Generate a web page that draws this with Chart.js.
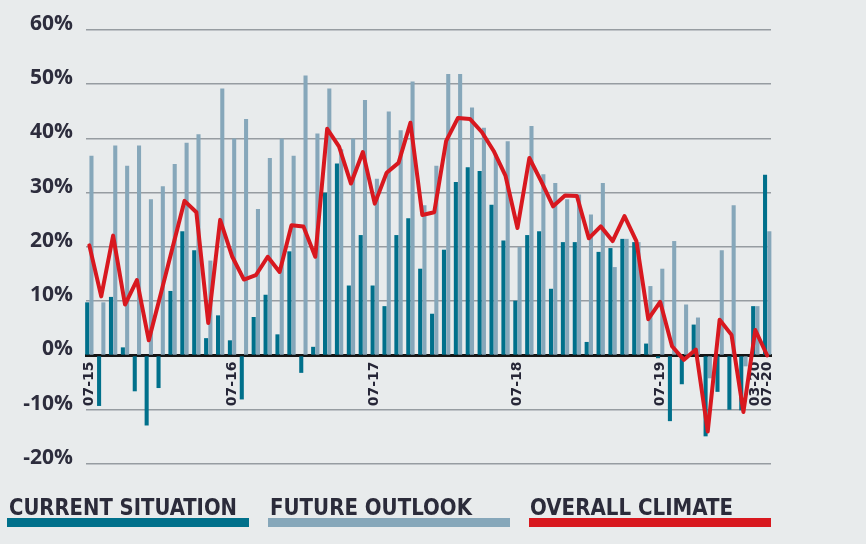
<!DOCTYPE html>
<html><head><meta charset="utf-8">
<script src="https://cdn.jsdelivr.net/npm/chart.js@4.4.1/dist/chart.umd.min.js"></script>
<style>
html,body{margin:0;padding:0;background:#e8ebec;}
#wrap{position:relative;width:866px;height:544px;overflow:hidden;background:#e8ebec;}
#c{position:absolute;left:0;top:0;}
.lg{position:absolute;top:0;left:0;}
.lg .t{position:absolute;white-space:nowrap;font-family:"DejaVu Sans Condensed","DejaVu Sans",sans-serif;font-weight:bold;font-size:23px;line-height:23px;color:#2b2b3a;transform-origin:0 0;}
.lg .b{position:absolute;height:9px;}
</style></head><body>
<div id="wrap"><canvas id="c" width="866" height="544"></canvas><div id="legend" class="lg"></div></div>
<script>
const categories = [
 '07-15','08-15','09-15','10-15','11-15','12-15','01-16','02-16','03-16','04-16','05-16','06-16',
 '07-16','08-16','09-16','10-16','11-16','12-16','01-17','02-17','03-17','04-17','05-17','06-17',
 '07-17','08-17','09-17','10-17','11-17','12-17','01-18','02-18','03-18','04-18','05-18','06-18',
 '07-18','08-18','09-18','10-18','11-18','12-18','01-19','02-19','03-19','04-19','05-19','06-19',
 '07-19','08-19','09-19','10-19','11-19','12-19','01-20','02-20','03-20','07-20'];
const currentSituation = [
 9.8,-9.3,10.8,1.5,-6.6,-12.9,-6.0,11.9,22.9,19.4,3.2,7.4,
 2.8,-8.1,7.1,11.2,3.9,19.2,-3.2,1.6,30.0,35.4,12.9,22.2,
 12.9,9.1,22.2,25.3,16.0,7.7,19.5,32.0,34.7,34.0,27.8,21.2,
 10.1,22.2,22.9,12.3,20.9,20.9,2.5,19.1,19.8,21.5,20.9,2.2,
 -0.5,-12.1,-5.3,5.7,-14.9,-6.7,-10.0,-10.1,9.1,33.3];
const futureOutlook = [
 36.8,9.8,38.7,35.0,38.7,28.8,31.2,35.3,39.2,40.8,17.5,49.2,
 40.0,43.6,27.0,36.4,40.0,36.8,51.6,40.9,49.2,38.0,40.0,47.1,
 32.6,45.0,41.5,50.5,27.7,35.0,51.9,51.9,45.7,42.0,37.0,39.5,
 20.0,42.3,33.4,31.8,28.8,29.7,26.0,31.8,16.3,21.5,20.9,12.8,
 16.0,21.1,9.4,7.0,-4.2,19.4,27.7,-2.0,9.1,22.9];
const overallClimate = [
 20.3,10.9,22.1,9.4,13.9,2.8,11.3,19.9,28.5,26.4,6.0,25.0,
 18.3,14.0,14.8,18.2,15.4,24.0,23.8,18.2,41.8,38.5,31.7,37.5,
 28.0,33.7,35.5,42.9,25.9,26.4,39.5,43.8,43.6,41.2,37.7,33.1,
 23.5,36.4,32.1,27.5,29.5,29.4,21.6,23.8,21.1,25.7,21.1,6.7,
 9.9,1.7,-0.8,1.1,-14.0,6.6,3.8,-10.4,4.7,0.0];
const shownTickLabels = ['07-15','07-16','07-17','07-18','07-19','03-20','07-20'];
const yTicks = [-20,-10,0,10,20,30,40,50,60];
const seriesNames = ['CURRENT SITUATION','FUTURE OUTLOOK','OVERALL CLIMATE'];
const seriesColors = ['#00708b','#86a7ba','#d8181f'];

const toXY = arr => arr.map((v,i)=>({x:i,y:v}));

new Chart(document.getElementById('c'), {
  data:{datasets:[
    {type:'bar',label:seriesNames[0],data:toXY(currentSituation),backgroundColor:seriesColors[0],order:1,categoryPercentage:0.72,barPercentage:0.95,clip:false},
    {type:'bar',label:seriesNames[1],data:toXY(futureOutlook),backgroundColor:seriesColors[1],order:1,categoryPercentage:0.72,barPercentage:0.95,clip:false},
    {type:'line',label:seriesNames[2],data:toXY(overallClimate),borderColor:seriesColors[2],borderWidth:4,pointRadius:0,tension:0,order:0,clip:false,borderJoinStyle:'round',borderCapStyle:'round'}
  ]},
  options:{
    responsive:false,animation:false,
    layout:{padding:{left:0,right:95,top:30,bottom:80}},
    plugins:{legend:{display:false},tooltip:{enabled:false}},
    scales:{
      x:{type:'linear',position:{y:0},min:-0.28,max:57.32,z:1,offset:false,
        grid:{display:false,drawTicks:false,offset:false},
        border:{display:true,color:'#151515',width:3},
        afterBuildTicks:s=>{s.ticks=categories.map((c,i)=>({value:i,label:c})).filter(t=>shownTickLabels.includes(t.label)).map(t=>({value:t.value}));},
        ticks:{autoSkip:false,minRotation:90,maxRotation:90,padding:6,color:'#262637',
          font:{family:'DejaVu Sans',weight:'bold',size:14},
          callback:v=>categories[v]}
      },
      y:{min:-20,max:60,
        afterBuildTicks:s=>{s.ticks=yTicks.map(v=>({value:v}));},
        afterFit:s=>{s.width=86;},
        grid:{color:'#969ca1',lineWidth:1.6,drawTicks:false},
        border:{display:false},
        ticks:{padding:13,labelOffset:-6,color:'#2d2d3d',
          font:{family:'Open Sans',weight:'bold',size:21},
          callback:v=>v+'%'}
      }
    }
  }
});

// legend as real text
const legendPos = [
  {barLeft:7,textLeft:8.5,textWidth:228},
  {barLeft:268,textLeft:270,textWidth:202},
  {barLeft:529,textLeft:529.5,textWidth:203}
];
const lg = document.getElementById('legend');
seriesNames.forEach((n,i)=>{
  const t=document.createElement('div'); t.className='t'; t.textContent=n;
  t.style.left=legendPos[i].textLeft+'px'; t.style.top='495.5px';
  lg.appendChild(t);
  const w=t.getBoundingClientRect().width;
  t.style.transform='scaleX('+(legendPos[i].textWidth/w)+')';
  const b=document.createElement('div'); b.className='b';
  b.style.left=legendPos[i].barLeft+'px'; b.style.top='518px'; b.style.width='242px';
  b.style.background=seriesColors[i];
  lg.appendChild(b);
});
</script>
</body></html>
